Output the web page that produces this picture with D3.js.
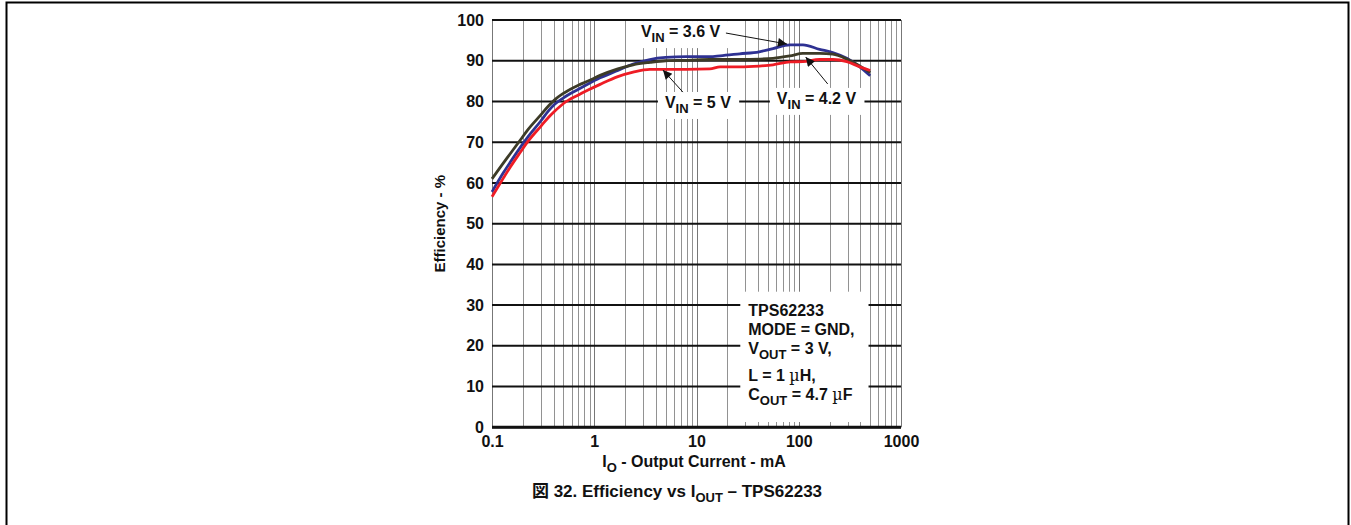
<!DOCTYPE html>
<html>
<head>
<meta charset="utf-8">
<script src="https://cdn.jsdelivr.net/npm/d3@7"></script>
<style>
  body { margin: 0; background: #fff; }
  svg { display: block; }
  text { font-family: "Liberation Sans", Arial, sans-serif; font-weight: bold; fill: #111; }
</style>
</head>
<body>
<svg id="chart" width="1351" height="525"></svg>
<script>
// output current (mA) where the curves were read
const currents = [0.1, 0.13, 0.15, 0.19, 0.22, 0.3, 0.36, 0.41, 0.5, 0.7, 0.87, 1.14, 1.7, 2.4, 3.5, 5, 8, 13.5, 17, 26.5, 41, 56, 82, 110, 160, 215, 295, 395, 500];
// efficiency (%) per input voltage
const eff36 = [57.8, 62.6, 65.0, 68.8, 71.0, 75.2, 77.8, 79.3, 80.9, 83.0, 84.3, 85.8, 87.6, 89.2, 90.3, 90.8, 91.0, 91.0, 91.2, 91.7, 92.2, 93.0, 93.9, 93.9, 92.8, 92.0, 90.6, 88.5, 86.3];
const eff42 = [61.0, 65.0, 67.1, 70.6, 72.8, 76.7, 79.0, 80.4, 82.0, 84.0, 85.0, 86.4, 88.0, 89.0, 89.6, 90.0, 90.1, 90.3, 90.3, 90.3, 90.4, 90.6, 91.2, 91.8, 91.8, 91.6, 90.4, 88.7, 87.1];
const eff50 = [56.6, 61.3, 63.8, 67.6, 69.9, 73.9, 76.2, 77.6, 79.5, 81.6, 82.8, 84.2, 86.1, 87.2, 87.9, 87.9, 87.9, 88.0, 88.5, 88.5, 88.7, 89.0, 89.7, 89.8, 90.3, 90.3, 89.8, 88.5, 87.6];

const yTicks = [0, 10, 20, 30, 40, 50, 60, 70, 80, 90, 100];
const xTicks = [0.1, 1, 10, 100, 1000];
const xTickLabels = ["0.1", "1", "10", "100", "1000"];

const svg = d3.select("#chart");
const x = d3.scaleLog().domain([0.1, 1000]).range([492, 901]);
const y = d3.scaleLinear().domain([0, 100]).range([427.3, 20]);

// page frame
svg.append("rect")
    .attr("x", 6.5).attr("y", 2.5)
    .attr("width", 1342).attr("height", 540)
    .attr("fill", "none").attr("stroke", "#000").attr("stroke-width", 2);

// vertical log grid
let minor = [];
for (let k = -1; k < 3; k++) {
    for (let d = 1; d < 10; d++) minor.push(d * Math.pow(10, k));
}
minor.push(1000);

const grid = svg.append("g");
grid.selectAll("line.v")
    .data(minor)
    .join("line")
    .attr("class", "v")
    .attr("x1", d => Math.round(x(d)) + 0.5)
    .attr("x2", d => Math.round(x(d)) + 0.5)
    .attr("y1", y(100)).attr("y2", y(0))
    .attr("stroke", (d, i) => (i % 9 === 0 ? "#777" : "#929292"))
    .attr("stroke-width", 1);

grid.selectAll("line.h")
    .data(yTicks)
    .join("line")
    .attr("class", "h")
    .attr("x1", x(0.1)).attr("x2", x(1000))
    .attr("y1", d => y(d)).attr("y2", d => y(d))
    .attr("stroke", "#111")
    .attr("stroke-width", 2);

// annotations (positions in data units: mA, %)
const notes = [
    {lines: [[["V", ""], ["IN", "sub"], [" = 3.6 V", ""]]], at: [2.86, 95.8], tail: [19.4, 96.8], head: [76.6, 94.1]},
    {lines: [[["V", ""], ["IN", "sub"], [" = 5 V", ""]]], at: [4.91, 78.4], tail: [7.36, 82.3], head: [4.7, 87.7]},
    {lines: [[["V", ""], ["IN", "sub"], [" = 4.2 V", ""]]], at: [61.1, 79.4], tail: [192, 84.3], head: [117, 90.9]},
];
const specLines = [
    [["TPS62233", ""]],
    [["MODE = GND,", ""]],
    [["V", ""], ["OUT", "sub"], [" = 3 V,", ""]],
    [["L = 1 ", ""], ["\u00b5", "mu"], ["H,", ""]],
    [["C", ""], ["OUT", "sub"], [" = 4.7 ", ""], ["\u00b5", "mu"], ["F", ""]],
];
const specBase = [27.4, 22.7, 17.9, 11.4, 6.7];

const boxLayer = svg.append("g");
const curveLayer = svg.append("g");
const textLayer = svg.append("g");

function writeLine(g, parts, px, py) {
    const t = g.append("text").attr("x", px).attr("y", py).style("font-size", "16px");
    let shifted = false;
    parts.forEach(([s, kind]) => {
        const ts = t.append("tspan").text(s);
        if (kind === "sub") {
            ts.attr("dy", 5).style("font-size", "13px");
            shifted = true;
        } else {
            if (shifted) { ts.attr("dy", -5); shifted = false; }
            if (kind === "mu") ts.style("font-family", "'DejaVu Serif', serif").style("font-weight", "normal");
        }
    });
    return t;
}

function whiteBox(g, padL, padR, padT, padB) {
    const b = g.node().getBBox();
    boxLayer.append("rect")
        .attr("x", b.x - padL).attr("y", b.y - padT)
        .attr("width", b.width + padL + padR).attr("height", b.height + padT + padB)
        .attr("fill", "#fff");
}

notes.forEach(n => {
    const g = textLayer.append("g");
    n.lines.forEach(parts => writeLine(g, parts, x(n.at[0]), y(n.at[1])));
    whiteBox(g, 7, 8, 2, 3);
});

const spec = textLayer.append("g");
specLines.forEach((parts, i) => writeLine(spec, parts, x(32.1), y(specBase[i])));
whiteBox(spec, 8, 14, 10, 14);

// keep plot edges visible over the boxes
boxLayer.append("line")
    .attr("x1", x(0.1)).attr("x2", x(1000)).attr("y1", y(100)).attr("y2", y(100))
    .attr("stroke", "#111").attr("stroke-width", 2);
boxLayer.append("line")
    .attr("x1", x(0.1)).attr("x2", x(1000)).attr("y1", y(0)).attr("y2", y(0))
    .attr("stroke", "#111").attr("stroke-width", 3);

// curves
const series = [
    {name: "3.6", values: eff36, color: "#2e3192"},
    {name: "4.2", values: eff42, color: "#3d3b27"},
    {name: "5", values: eff50, color: "#ee1c25"},
];
const line = d3.line()
    .x((d, i) => x(currents[i]))
    .y(d => y(d))
    .curve(d3.curveMonotoneX);

curveLayer.selectAll("path")
    .data(series)
    .join("path")
    .attr("d", d => line(d.values))
    .attr("fill", "none")
    .attr("stroke", d => d.color)
    .attr("stroke-width", 2.8)
    .attr("stroke-linejoin", "round");

// arrows
svg.append("defs").append("marker")
    .attr("id", "arrowhead")
    .attr("viewBox", "0 0 10 10")
    .attr("refX", 10).attr("refY", 5)
    .attr("markerWidth", 14).attr("markerHeight", 9)
    .attr("markerUnits", "userSpaceOnUse")
    .attr("orient", "auto")
    .append("path")
    .attr("d", "M0,0 L10,5 L0,10 Z")
    .attr("fill", "#111");

textLayer.selectAll("line.arrow")
    .data(notes)
    .join("line")
    .attr("class", "arrow")
    .attr("x1", d => x(d.tail[0])).attr("y1", d => y(d.tail[1]))
    .attr("x2", d => x(d.head[0])).attr("y2", d => y(d.head[1]))
    .attr("stroke", "#111")
    .attr("stroke-width", 1)
    .attr("marker-end", "url(#arrowhead)");

// axes labels
const yAxis = svg.append("g")
    .attr("transform", `translate(${x(0.1)},0)`)
    .call(d3.axisLeft(y).tickValues(yTicks).tickSize(0).tickPadding(8));
yAxis.select(".domain").remove();
yAxis.selectAll("text")
    .style("font-size", "16px")
    .style("font-family", "'Liberation Sans', Arial, sans-serif")
    .style("font-weight", "bold")
    .attr("fill", "#111");

const xAxis = svg.append("g")
    .attr("transform", `translate(0,${y(0)})`)
    .call(d3.axisBottom(x).tickValues(xTicks).tickFormat((d, i) => xTickLabels[i]).tickSize(0).tickPadding(8));
xAxis.select(".domain").remove();
xAxis.selectAll("text")
    .style("font-size", "16px")
    .style("font-family", "'Liberation Sans', Arial, sans-serif")
    .style("font-weight", "bold")
    .attr("fill", "#111");

svg.append("text")
    .attr("transform", `translate(445,${(y(0) + y(100)) / 2}) rotate(-90)`)
    .attr("text-anchor", "middle")
    .style("font-size", "15px")
    .text("Efficiency - %");

const xTitle = svg.append("text")
    .attr("x", 694).attr("y", 467)
    .attr("text-anchor", "middle")
    .style("font-size", "16px");
xTitle.append("tspan").text("I");
xTitle.append("tspan").attr("dy", 5).style("font-size", "13px").text("O");
xTitle.append("tspan").attr("dy", -5).text(" - Output Current - mA");

const caption = svg.append("text")
    .attr("x", 677).attr("y", 497)
    .attr("text-anchor", "middle")
    .style("font-size", "17px");
caption.append("tspan").style("font-family", "'Noto Sans CJK JP', sans-serif").text("\u56f3");
caption.append("tspan").text(" 32. Efficiency vs I");
caption.append("tspan").attr("dy", 5).style("font-size", "13px").text("OUT");
caption.append("tspan").attr("dy", -5).text(" \u2013 TPS62233");
</script>
</body>
</html>
